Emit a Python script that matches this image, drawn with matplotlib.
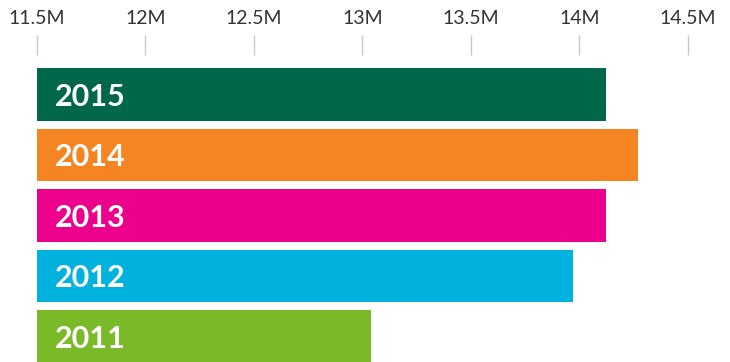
import matplotlib.pyplot as plt
import matplotlib as mpl

mpl.rcParams['font.family'] = ['Lato', 'DejaVu Sans']

# data
years = ['2011', '2012', '2013', '2014', '2015']
values = [13.04, 13.97, 14.12, 14.27, 14.12]  # millions
colors = ['#7AB928', '#00B2DD', '#EC008C', '#F58522', '#00674B']
tick_values = [11.5, 12, 12.5, 13, 13.5, 14, 14.5]
tick_labels = ['11.5M', '12M', '12.5M', '13M', '13.5M', '14M', '14.5M']
x_min = 11.5

fig = plt.figure(figsize=(7.30, 3.62), dpi=100)

# axes placed in pixels: x 37..688 -> 11.5..14.5
W, H = 730., 362.
top_px, bottom_px = 55., 366.75
ax = fig.add_axes([37 / W, (H - bottom_px) / H, (688 - 37) / W, (bottom_px - top_px) / H])

ypos = list(range(len(years)))
ax.barh(ypos, [v - x_min for v in values], left=x_min,
        height=0.876,
        color=colors,
        linewidth=0)

for y, year in zip(ypos, years):
    ax.annotate(year,
                xy=(x_min, y),
                xytext=(13, -1.5),
                textcoords='offset points',
                ha='left', va='center',
                color='white',
                fontsize=22,
                fontweight='bold')

ax.set_xlim(11.5, 14.5)
ax.set_ylim(-0.5, 4 + (94.5 - top_px) / 60.5)

ax.xaxis.tick_top()
ax.set_xticks(tick_values)
ax.set_xticklabels(tick_labels)
ax.tick_params(axis='x', direction='out', length=14.4, width=1.0,
               color='#c8c8c8', pad=6, labelsize=14, labelcolor='#333333')
ax.set_yticks([])

for s in ax.spines.values():
    s.set_visible(False)

fig.savefig('out.png', dpi=100)
